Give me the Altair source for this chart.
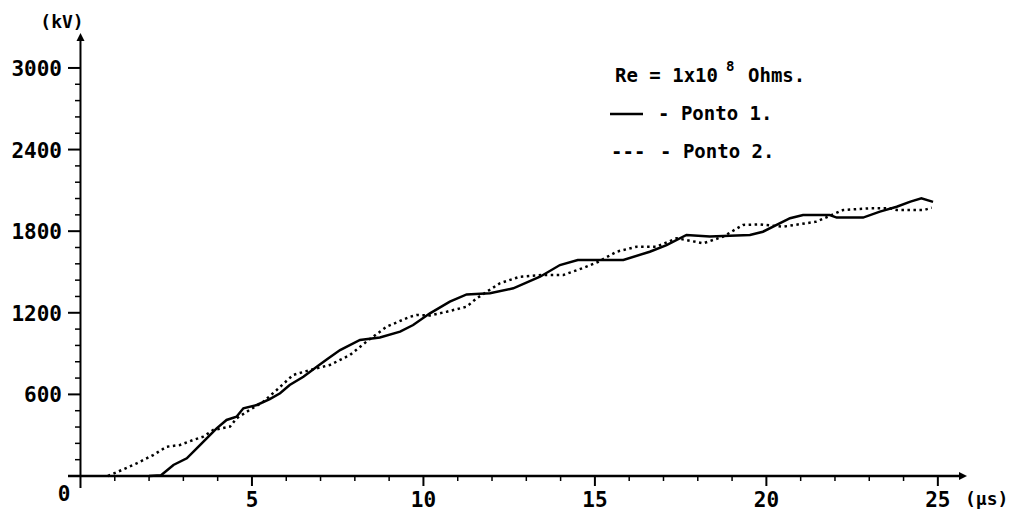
import altair as alt
import pandas as pd

# Ponto 1 (solid)
p1_t = [2.0, 2.35, 2.71, 3.1, 3.39, 3.68, 3.97, 4.26, 4.55, 4.75, 5.14, 5.52, 5.82, 6.1, 6.5,
        6.89, 7.2, 7.57, 8.15, 8.73, 9.32, 9.7, 10.19, 10.77, 11.26, 11.94, 12.62, 13.4, 13.98,
        14.5, 15.83, 16.6, 17.09, 17.67, 18.35, 19.52, 19.9, 20.69, 21.07, 21.85, 22.05, 22.82,
        23.31, 23.8, 24.2, 24.52, 24.86]
p1_v = [0, 5, 81, 130, 203, 277, 350, 412, 436, 498, 522, 565, 608, 669, 730,
        804, 860, 926, 1000, 1018, 1061, 1110, 1196, 1282, 1335, 1343, 1380, 1465, 1551,
        1588, 1588, 1649, 1698, 1772, 1760, 1772, 1796, 1895, 1919, 1919, 1900, 1900,
        1944, 1980, 2017, 2042, 2015]

# Ponto 2 (dotted)
p2_t = [0.8, 1.25, 1.64, 2.12, 2.51, 2.9, 3.29, 3.58, 3.87, 4.36, 4.55, 4.85, 5.33, 5.72, 6.2,
        6.69, 7.27, 7.86, 8.34, 8.93, 9.61, 9.8, 10.19, 10.68, 11.26, 11.55, 12.23, 12.81, 13.49,
        14.08, 14.66, 15.1, 15.63, 16.22, 16.8, 17.38, 18.16, 18.74, 19.32, 19.81, 20.49, 21.46,
        22.24, 23.02, 23.6, 23.8, 24.6, 24.82]
p2_v = [0, 49, 93, 154, 215, 228, 265, 289, 338, 363, 424, 473, 546, 632, 743,
        779, 816, 890, 988, 1098, 1171, 1184, 1180, 1208, 1245, 1306, 1417, 1465, 1478,
        1478, 1530, 1575, 1649, 1686, 1686, 1748, 1711, 1760, 1846, 1850, 1833, 1870,
        1956, 1968, 1968, 1956, 1956, 1973]

x_major = [5, 10, 15, 20, 25]
x_labels = ["5", "10", "15", "20", "25"]
y_major = [600, 1200, 1800, 2400, 3000]
y_labels = ["600", "1200", "1800", "2400", "3000"]
x_minor = [i for i in range(1, 25) if i % 5]
y_minor = [v for v in range(120, 3000, 120) if v % 600]

W, H = 899, 455
FONT = "DejaVu Sans Mono"
xs = alt.Scale(domain=[-0.364, 25.85], nice=False, zero=False)
ys = alt.Scale(domain=[-88.2, 3257], nice=False, zero=False)
AX0 = 443  # pixel row of the x axis line inside the plot
AY0 = 12   # pixel column of the y axis line inside the plot


def X(f):
    return alt.X(f, scale=xs, axis=None)


def Y(f):
    return alt.Y(f, scale=ys, axis=None)


d1 = pd.DataFrame({"t": p1_t, "v": p1_v})
d2 = pd.DataFrame({"t": p2_t, "v": p2_v})

line1 = alt.Chart(d1).mark_line(color="black", strokeWidth=2.5).encode(x=X("t:Q"), y=Y("v:Q"))
line2 = alt.Chart(d2).mark_line(color="black", strokeWidth=2.5, strokeDash=[2.5, 3.5]).encode(
    x=X("t:Q"), y=Y("v:Q"))

one = pd.DataFrame({"a": [0]})
x_axis_line = alt.Chart(one).mark_rule(color="black", strokeWidth=2.5).encode(
    x=alt.value(0), x2=alt.value(W - 6), y=Y("a:Q"))
y_axis_line = alt.Chart(one).mark_rule(color="black", strokeWidth=2).encode(
    y=alt.value(6), y2=alt.value(H), x=X("a:Q"))

dxM = pd.DataFrame({"t": x_major, "lab": x_labels})
dyM = pd.DataFrame({"v": y_major, "lab": y_labels})

xmaj = alt.Chart(dxM).mark_rule(color="black", strokeWidth=2).encode(
    x=X("t:Q"), y=alt.value(AX0), y2=alt.value(AX0 + 10))
ymaj = alt.Chart(dyM).mark_rule(color="black", strokeWidth=2).encode(
    y=Y("v:Q"), x=alt.value(AY0 - 12), x2=alt.value(AY0))
xmin = alt.Chart(pd.DataFrame({"t": x_minor})).mark_rule(color="black", strokeWidth=1.5).encode(
    x=X("t:Q"), y=alt.value(AX0), y2=alt.value(AX0 + 5))
ymin = alt.Chart(pd.DataFrame({"v": y_minor})).mark_rule(color="black", strokeWidth=1.5).encode(
    y=Y("v:Q"), x=alt.value(AY0 - 5), x2=alt.value(AY0))

xlab = alt.Chart(dxM).mark_text(font=FONT, fontWeight="bold", fontSize=21, align="center",
                                baseline="alphabetic", color="black").encode(
    x=X("t:Q"), y=alt.value(474), text="lab:N")
ylab = alt.Chart(dyM).mark_text(font=FONT, fontWeight="bold", fontSize=21, align="right",
                                baseline="middle", dy=2, color="black").encode(
    y=Y("v:Q"), x=alt.value(AY0 - 18), text="lab:N")

arrow_up = alt.Chart(one).mark_point(
    shape="M0,-1L1,1L-1,1Z", filled=True, size=64, color="black", opacity=1
).encode(x=X("a:Q"), y=alt.value(4))
arrow_right = alt.Chart(one).mark_point(
    shape="M1,0L-1,-1L-1,1Z", filled=True, size=64, color="black", opacity=1
).encode(y=Y("a:Q"), x=alt.value(W - 4))


def txt(s, x, y, size=19, align="left"):
    return alt.Chart(pd.DataFrame({"s": [s]})).mark_text(
        text=s, font=FONT, fontWeight="bold", fontSize=size, align=align,
        baseline="alphabetic", color="black"
    ).encode(x=alt.value(x), y=alt.value(y))


legend_rule = alt.Chart(one).mark_rule(color="black", strokeWidth=2.5).encode(
    x=alt.value(542), x2=alt.value(575), y=alt.value(81))

layers = [
    x_axis_line, y_axis_line, xmaj, ymaj, xmin, ymin, xlab, ylab,
    line1, line2, arrow_up, arrow_right,
    txt("(kV)", -6, -5, size=18, align="center"),
    txt("(µs)", 897, 472, size=18),
    txt("0", -4, 468, size=21, align="center"),
    txt("Re = 1x10", 547, 49),
    txt("8", 658, 38, size=14),
    txt("Ohms.", 680, 49),
    legend_rule,
    txt("-  Ponto 1.", 590, 87),
    txt("---", 543, 125),
    txt("-  Ponto 2.", 592, 125),
]

chart = alt.layer(*layers).properties(
    width=W, height=H,
    padding={"left": 60, "top": 25, "right": 41, "bottom": 27},
    autosize=alt.AutoSizeParams(type="none"),
).configure_view(stroke=None)

chart.save("out.html", embed_options={"renderer": "svg", "actions": False})
